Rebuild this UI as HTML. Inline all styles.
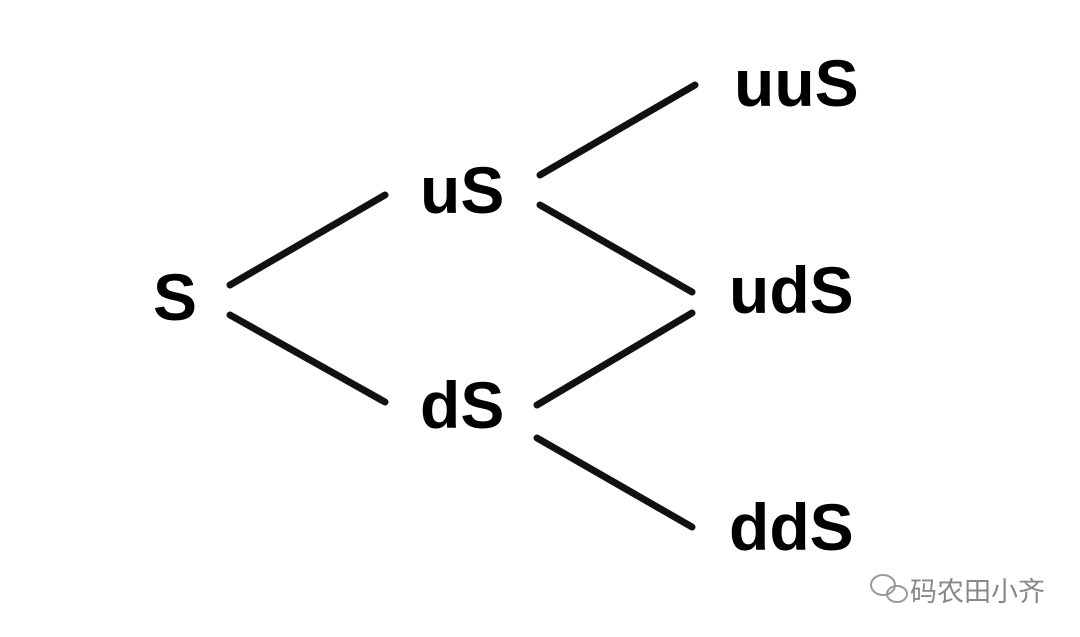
<!DOCTYPE html>
<html><head><meta charset="utf-8"><style>
html,body{margin:0;padding:0;background:#fff;}
body{width:1080px;height:637px;position:relative;overflow:hidden;}
svg{position:absolute;left:0;top:0;}
</style></head><body>
<svg width="1080" height="637" viewBox="0 0 1080 637">
<g stroke="#111" stroke-width="7" stroke-linecap="round" fill="none">
<line x1="230" y1="285" x2="385" y2="195"/>
<line x1="230" y1="315" x2="385" y2="402"/>
<line x1="540" y1="175" x2="695" y2="85"/>
<line x1="540" y1="205" x2="692" y2="292"/>
<line x1="537" y1="405" x2="692" y2="313"/>
<line x1="537" y1="438" x2="692" y2="527"/>
</g>
<g font-family="Liberation Sans, sans-serif" font-size="66" font-weight="bold" fill="#000">
<text x="153" y="320">S</text>
<text x="420" y="213">uS</text>
<text x="420" y="428">dS</text>
<text x="734" y="106">uuS</text>
<text x="729" y="313">udS</text>
<text x="729" y="550">ddS</text>
</g>
<g fill="none" stroke="#999" stroke-width="2">
<ellipse cx="883" cy="585" rx="12" ry="10"/>
<ellipse cx="897" cy="594" rx="10" ry="8"/>
</g>
<text x="910" y="601" font-family="Liberation Sans, Noto Sans CJK SC, sans-serif" font-size="27" fill="#888">码农田小齐</text>
</svg>
</body></html>
